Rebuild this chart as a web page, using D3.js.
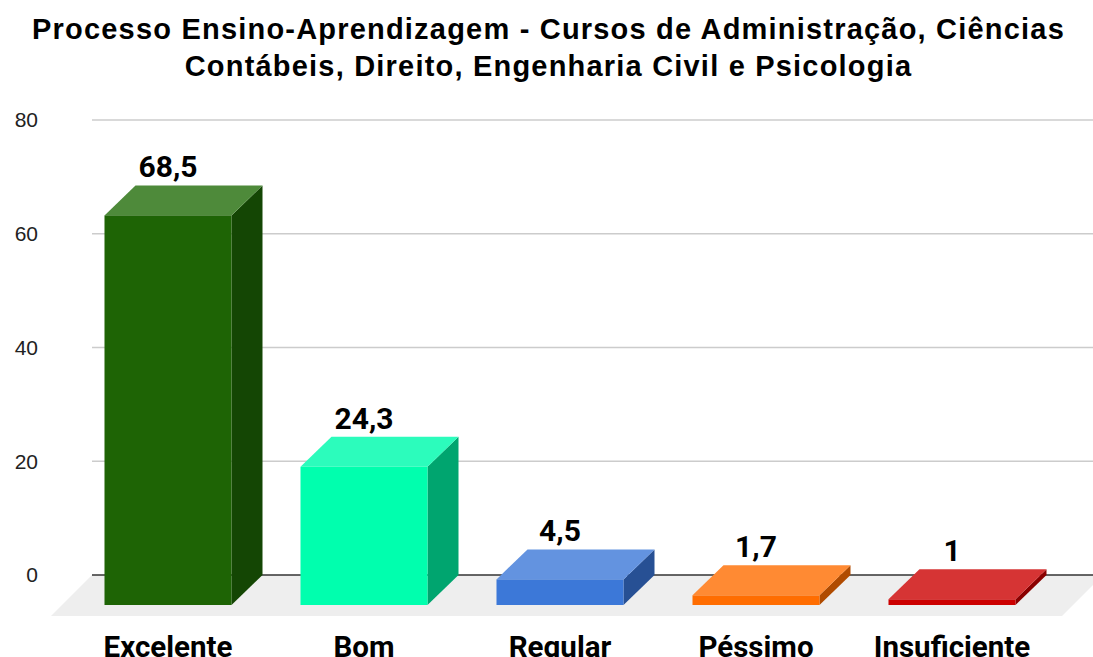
<!DOCTYPE html>
<html>
<head>
<meta charset="utf-8">
<script src="https://cdn.jsdelivr.net/npm/d3@7"></script>
<style>
  body { margin: 0; background: #fff; }
  svg { display: block; }
</style>
</head>
<body>
<svg width="1093" height="657"></svg>
<script>
const width = 1093;
const height = 657;

const titleLines = [
  'Processo Ensino-Aprendizagem - Cursos de Administração, Ciências',
  'Contábeis, Direito, Engenharia Civil e Psicologia'
];
const categories = ['Excelente', 'Bom', 'Regular', 'Péssimo', 'Insuficiente'];
const values = [68.5, 24.3, 4.5, 1.7, 1];
const valueLabels = ['68,5', '24,3', '4,5', '1,7', '1'];
const yTicks = [0, 20, 40, 60, 80];
// front, top, side shades per bar
const frontColors = ['#1e6405', '#00ffae', '#3c78d8', '#ff6d01', '#cc0000'];
const topColors = ['#4e8a3a', '#2cfcbc', '#6393e0', '#ff8a33', '#d63434'];
const sideColors = ['#144604', '#00a56f', '#275094', '#b04b00', '#8a0000'];

const margin = ({top: 120, right: 0, bottom: 82, left: 92});
const depth = ({dx: 31, dy: 30});

const x = d3.scaleBand()
    .domain(categories)
    .range([70, 1050])
    .paddingInner(0.352)
    .paddingOuter(0.176);

const y = d3.scaleLinear()
    .domain([0, 80])
    .range([height - margin.bottom, margin.top]);

const svg = d3.select('svg');

// title
svg.append('g')
    .attr('font-family', '"Liberation Sans", Arial, sans-serif')
    .attr('font-weight', 'bold')
    .attr('font-size', 29)
    .attr('letter-spacing', 1.2)
    .attr('fill', '#000')
    .attr('text-anchor', 'middle')
    .selectAll('text')
    .data(titleLines)
    .join('text')
    .attr('x', 548.5)
    .attr('y', (d, i) => 39 + i * 37)
    .text(d => d);

// gridlines
svg.append('g')
    .attr('stroke', '#cccccc')
    .attr('stroke-width', 1.5)
    .selectAll('line')
    .data(yTicks.filter(d => d !== 0))
    .join('line')
    .attr('x1', margin.left)
    .attr('x2', width)
    .attr('y1', d => y(d))
    .attr('y2', d => y(d));

// y tick labels
svg.append('g')
    .attr('font-family', '"Liberation Sans", Arial, sans-serif')
    .attr('font-size', 21)
    .attr('fill', '#222')
    .attr('text-anchor', 'end')
    .selectAll('text')
    .data(yTicks)
    .join('text')
    .attr('x', 38)
    .attr('y', d => y(d))
    .attr('dy', '0.35em')
    .text(d => d);

// floor
const y0 = y(0);
const floorDepth = 41;
svg.append('path')
    .attr('fill', '#eeeeee')
    .attr('d', `M${margin.left},${y0}L${width + 10},${y0}L${width + 10 - floorDepth},${y0 + floorDepth}L${margin.left - floorDepth},${y0 + floorDepth}Z`);

// zero line
svg.append('line')
    .attr('stroke', '#333')
    .attr('stroke-width', 1.5)
    .attr('x1', margin.left)
    .attr('x2', width)
    .attr('y1', y0)
    .attr('y2', y0);

// bars
const bars = svg.append('g')
    .selectAll('g')
    .data(categories.map((c, i) => ({c, v: values[i], i})))
    .join('g');

bars.append('path')
    .attr('fill', d => sideColors[d.i])
    .attr('d', d => {
      const x1 = x(d.c) + x.bandwidth();
      const yt = y(d.v) + depth.dy, yb = y0 + depth.dy;
      return `M${x1},${yt}L${x1 + depth.dx},${yt - depth.dy}L${x1 + depth.dx},${yb - depth.dy}L${x1},${yb}Z`;
    });

bars.append('path')
    .attr('fill', d => topColors[d.i])
    .attr('d', d => {
      const x0 = x(d.c), x1 = x0 + x.bandwidth();
      const yt = y(d.v) + depth.dy;
      return `M${x0},${yt}L${x0 + depth.dx},${yt - depth.dy}L${x1 + depth.dx},${yt - depth.dy}L${x1},${yt}Z`;
    });

bars.append('rect')
    .attr('fill', d => frontColors[d.i])
    .attr('x', d => x(d.c))
    .attr('width', x.bandwidth())
    .attr('y', d => y(d.v) + depth.dy)
    .attr('height', d => y0 - y(d.v));

// value labels
svg.append('g')
    .attr('font-family', 'Roboto, sans-serif')
    .attr('font-weight', 'bold')
    .attr('font-size', 30)
    .attr('fill', '#000')
    .attr('text-anchor', 'middle')
    .selectAll('text')
    .data(categories.map((c, i) => ({c, v: values[i], label: valueLabels[i]})))
    .join('text')
    .attr('x', d => x(d.c) + x.bandwidth() / 2)
    .attr('y', d => y(d.v) - 8)
    .text(d => d.label);

// category labels
svg.append('g')
    .attr('font-family', 'Roboto, sans-serif')
    .attr('font-weight', 'bold')
    .attr('font-size', 29.5)
    .attr('fill', '#000')
    .attr('text-anchor', 'middle')
    .selectAll('text')
    .data(categories)
    .join('text')
    .attr('x', d => x(d) + x.bandwidth() / 2)
    .attr('y', 657)
    .text(d => d);
</script>
</body>
</html>
